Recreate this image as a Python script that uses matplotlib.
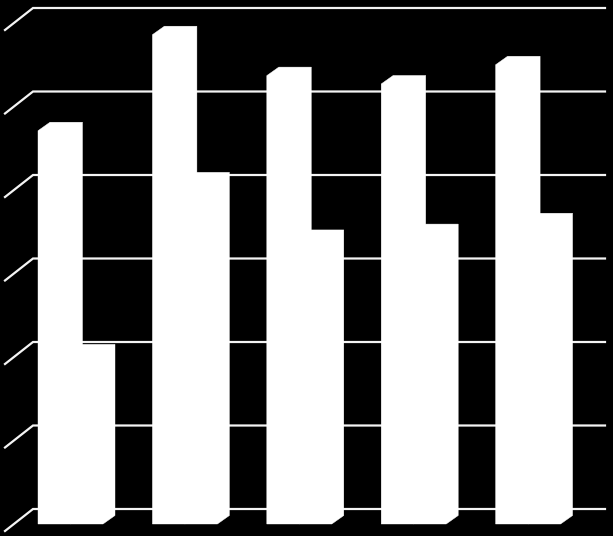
import matplotlib
matplotlib.use("Agg")
import matplotlib.pyplot as plt
import numpy as np

categories = [0, 1, 2, 3, 4]
series_a = [4.71, 5.86, 5.37, 5.27, 5.50]
series_b = [2.05, 4.11, 3.42, 3.49, 3.62]
grid_values = [0, 1, 2, 3, 4, 5, 6]

W, H = 613, 536
PITCH_X, UNIT_Y = 114.4, 83.5
X0_PX, Y0_PX = 70.5, 509.0      # front centre of first group, back-wall zero


fig = plt.figure(figsize=(W / 100, H / 100), dpi=100, facecolor="black")
ax = fig.add_axes([0, 0, 1, 1], facecolor="black")
ax.set_xlim(-X0_PX / PITCH_X, (W - X0_PX) / PITCH_X)
ax.set_ylim(-(H - Y0_PX) / UNIT_Y, Y0_PX / UNIT_Y)
ax.axis("off")

bar_w = 32.5 / PITCH_X
dx = 12 / PITCH_X
dy = 8.5 / UNIT_Y
floor = -15 / UNIT_Y
wall_left = (33 - X0_PX) / PITCH_X
wall_right = (605 - X0_PX) / PITCH_X
side_dx = -28 / PITCH_X
side_dy = -22 / UNIT_Y

for g in grid_values:
    ax.plot([wall_left + side_dx, wall_left, wall_right], [g + side_dy, g, g],
            color="#f4f4f4", lw=1.6, solid_joinstyle="miter", zorder=1)


def draw_series(xs, vals):
    for x, v in zip(xs, vals):
        l, r = x - bar_w / 2, x + bar_w / 2
        top = v + floor
        ax.fill([l, l, l + dx, r + dx, r + dx, r],
                [floor, top, top + dy, top + dy, floor + dy, floor],
                facecolor="white", edgecolor="white", linewidth=0.3, zorder=3)


cats = np.array(categories, dtype=float)
draw_series(cats - bar_w / 2, series_a)
draw_series(cats + bar_w / 2, series_b)

fig.savefig("out.png", dpi=100, facecolor="black")
